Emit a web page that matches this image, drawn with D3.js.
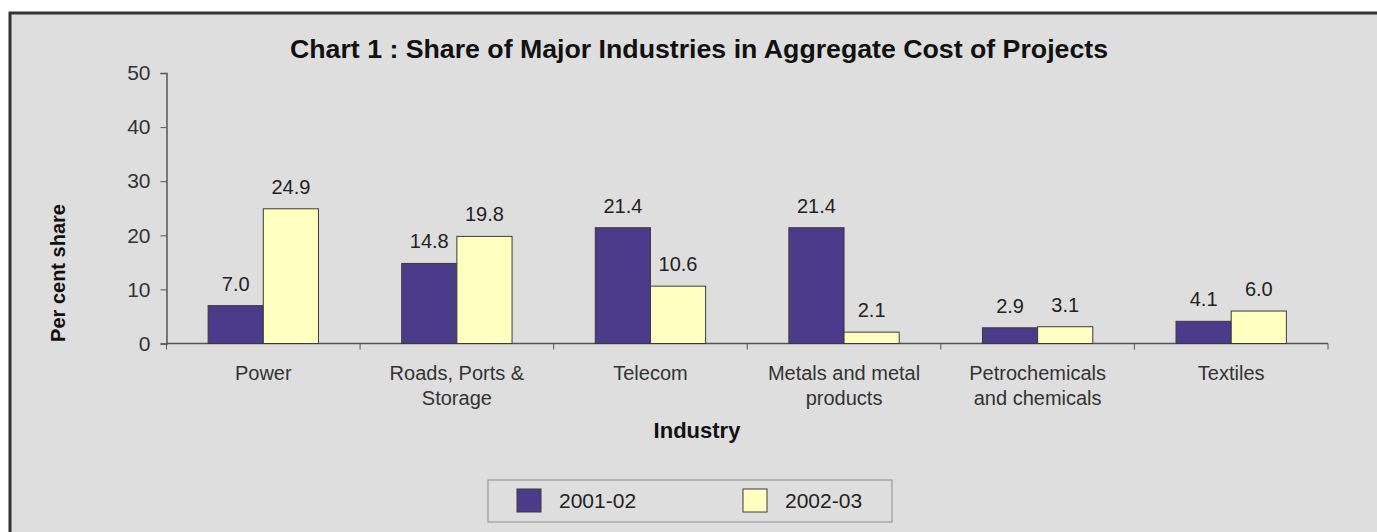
<!DOCTYPE html>
<html><head><meta charset="utf-8">
<script src="https://cdn.jsdelivr.net/npm/d3@7"></script>
<style>html,body{margin:0;padding:0;background:#fff;}svg{display:block;}</style>
</head><body>
<svg id="c" width="1377" height="532"></svg>
<script>
const categories = [["Power"],["Roads, Ports &","Storage"],["Telecom"],["Metals and metal","products"],["Petrochemicals","and chemicals"],["Textiles"]];
const series = ["2001-02","2002-03"];
const values2001 = [7.0,14.8,21.4,21.4,2.9,4.1];
const values2002 = [24.9,19.8,10.6,2.1,3.1,6.0];
const yTicks = [0,10,20,30,40,50];
const colors = ["#4B3C8B","#FFFFC0"];

const FONT = "Liberation Sans, Arial";
const svg = d3.select("#c");
svg.append("rect").attr("x",10).attr("y",13).attr("width",1380).attr("height",530)
  .attr("fill","#DEDEDE").attr("stroke","#333").attr("stroke-width",3);

const pL=166.5, pR=1328, pT=73, pB=343.5;
const x = d3.scaleBand().domain(d3.range(categories.length)).range([pL,pR]).paddingInner(0.43).paddingOuter(0.215);
const xs = d3.scaleBand().domain(series).range([0,x.bandwidth()]);
const y = d3.scaleLinear().domain([0,50]).range([pB,pT]);

svg.append("text").attr("x",699).attr("y",58).attr("text-anchor","middle")
  .attr("font-family",FONT).attr("font-weight","bold").attr("font-size",25).attr("fill","#111")
  .attr("textLength",818).attr("lengthAdjust","spacingAndGlyphs")
  .text("Chart 1 : Share of Major Industries in Aggregate Cost of Projects");

// y axis
const ya = svg.append("g").attr("transform",`translate(${pL},0)`)
  .call(d3.axisLeft(y).tickValues(yTicks).tickSize(6).tickPadding(10).tickFormat(d3.format("d")));
ya.select(".domain").attr("stroke","#555").attr("stroke-width",1.5);
ya.selectAll(".tick line").attr("stroke","#555");
ya.selectAll("text").attr("font-family",FONT).attr("font-size",21).attr("fill","#333");

// x axis
const bounds = d3.range(categories.length+1).map(i=>pL+i*(pR-pL)/categories.length);
const xa = svg.append("g");
xa.append("line").attr("x1",pL).attr("x2",pR).attr("y1",pB).attr("y2",pB).attr("stroke","#555").attr("stroke-width",1.5);
xa.selectAll(".tk").data(bounds).enter().append("line").attr("x1",d=>d).attr("x2",d=>d).attr("y1",pB).attr("y2",pB+6).attr("stroke","#555");

const g = svg.append("g");
series.forEach((s,si)=>{
  const vals = si===0?values2001:values2002;
  g.selectAll(".b"+si).data(vals).enter().append("rect")
    .attr("x",(d,i)=>x(i)+xs(s)).attr("width",xs.bandwidth())
    .attr("y",d=>y(d)).attr("height",d=>pB-y(d))
    .attr("fill",colors[si]).attr("stroke","#3a3a3a").attr("stroke-width",1);
  g.selectAll(".l"+si).data(vals).enter().append("text")
    .attr("x",(d,i)=>x(i)+xs(s)+xs.bandwidth()/2).attr("y",d=>y(d)-15)
    .attr("text-anchor","middle").attr("font-family",FONT).attr("font-size",20).attr("fill","#222")
    .text(d=>d.toFixed(1));
});

// category labels
categories.forEach((lines,i)=>{
  const t = svg.append("text").attr("text-anchor","middle").attr("font-family",FONT).attr("font-size",20).attr("fill","#333");
  lines.forEach((ln,k)=>t.append("tspan").attr("x",x(i)+x.bandwidth()/2).attr("y",380+k*25).text(ln));
});

svg.append("text").attr("x",697).attr("y",438).attr("text-anchor","middle")
  .attr("font-family",FONT).attr("font-weight","bold").attr("font-size",22).attr("fill","#111").text("Industry");

svg.append("text").attr("transform","translate(65,273) rotate(-90)").attr("text-anchor","middle")
  .attr("font-family",FONT).attr("font-weight","bold").attr("font-size",20).attr("fill","#111").text("Per cent share");

// legend
const lg = svg.append("g");
lg.append("rect").attr("x",488).attr("y",480).attr("width",404).attr("height",42).attr("fill","#DEDEDE").attr("stroke","#999").attr("stroke-width",1.2);
const lx = [517,743];
series.forEach((s,si)=>{
  lg.append("rect").attr("x",lx[si]).attr("y",489).attr("width",24).attr("height",23).attr("fill",colors[si]).attr("stroke","#3a3a3a");
  lg.append("text").attr("x",lx[si]+42).attr("y",508).attr("font-family",FONT).attr("font-size",21).attr("fill","#222").text(s);
});
</script>
</body></html>
